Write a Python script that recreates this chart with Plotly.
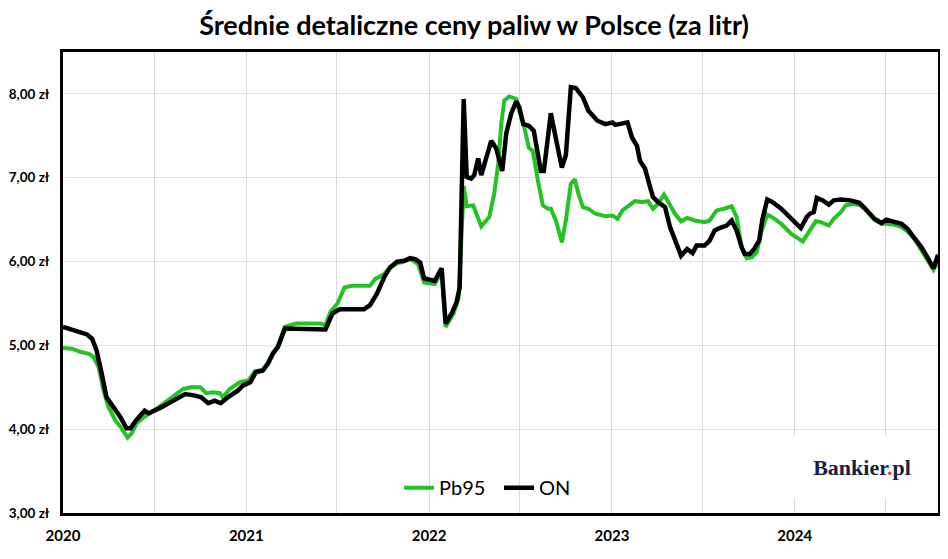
import plotly.graph_objects as go

# --- Data -------------------------------------------------------------
pb95_dates = [
    "2020-01-01", "2020-01-19", "2020-02-06", "2020-02-22", "2020-03-02", "2020-03-12",
    "2020-03-22", "2020-04-01", "2020-04-15", "2020-04-27", "2020-05-09", "2020-05-17",
    "2020-05-27", "2020-06-10", "2020-07-03", "2020-07-23", "2020-08-08", "2020-08-28",
    "2020-09-13", "2020-10-01", "2020-10-13", "2020-10-26", "2020-11-09", "2020-11-15",
    "2020-11-29", "2020-12-19",
    "2021-01-05", "2021-01-18", "2021-02-03", "2021-02-13", "2021-02-23", "2021-03-05",
    "2021-03-19", "2021-04-10", "2021-05-29", "2021-06-08", "2021-06-18", "2021-07-02",
    "2021-07-16", "2021-07-31", "2021-09-05", "2021-09-15", "2021-10-03", "2021-10-15",
    "2021-10-29", "2021-11-12", "2021-11-24", "2021-12-10", "2021-12-22",
    "2022-01-12", "2022-01-26", "2022-02-03", "2022-02-19", "2022-03-01", "2022-03-11",
    "2022-03-17", "2022-03-30", "2022-04-05", "2022-04-15", "2022-04-25", "2022-05-01",
    "2022-05-11", "2022-05-19", "2022-05-25", "2022-05-31", "2022-06-10", "2022-06-24",
    "2022-06-30", "2022-07-10", "2022-07-19", "2022-07-27", "2022-08-06", "2022-08-16",
    "2022-08-26", "2022-09-01", "2022-09-11", "2022-09-23", "2022-10-01", "2022-10-11",
    "2022-10-19", "2022-10-26", "2022-11-04", "2022-11-15", "2022-11-29", "2022-12-19",
    "2023-01-02", "2023-01-12", "2023-01-22", "2023-02-03", "2023-02-16", "2023-03-02",
    "2023-03-14", "2023-03-24", "2023-04-03", "2023-04-15", "2023-04-27", "2023-05-07",
    "2023-05-19", "2023-05-31", "2023-06-15", "2023-07-05", "2023-07-15", "2023-07-29",
    "2023-08-13", "2023-08-28", "2023-09-07", "2023-09-17", "2023-09-27", "2023-10-07",
    "2023-10-17", "2023-10-27", "2023-11-07", "2023-11-17", "2023-12-05", "2023-12-25",
    "2024-01-17", "2024-01-27", "2024-02-06", "2024-02-12", "2024-02-22", "2024-03-09",
    "2024-03-19", "2024-04-02", "2024-04-12", "2024-04-26", "2024-05-11", "2024-05-21",
    "2024-06-08", "2024-06-22", "2024-07-04", "2024-07-18", "2024-08-01", "2024-08-13",
    "2024-08-27", "2024-09-10", "2024-09-24", "2024-10-04", "2024-10-13",
]
pb95_prices = [
    4.97, 4.96, 4.92, 4.90, 4.86, 4.74,
    4.46, 4.26, 4.10, 4.01, 3.90, 3.95,
    4.07, 4.14, 4.23, 4.32, 4.40, 4.48,
    4.50, 4.50, 4.43, 4.44, 4.43, 4.38,
    4.48, 4.56,
    4.58, 4.69, 4.71, 4.79, 4.91, 4.99,
    5.22, 5.26, 5.26, 5.24, 5.40, 5.50,
    5.69, 5.71, 5.71, 5.79, 5.85, 5.93,
    5.98, 6.00, 6.03, 5.97, 5.75,
    5.73, 5.87, 5.22, 5.38, 5.57, 6.90,
    6.66, 6.67, 6.57, 6.42, 6.49, 6.53,
    6.81, 7.17, 7.64, 7.92, 7.97, 7.94,
    7.80, 7.60, 7.36, 7.32, 6.97, 6.67,
    6.63, 6.63, 6.49, 6.23, 6.49, 6.93,
    6.98, 6.81, 6.65, 6.63, 6.57, 6.54,
    6.55, 6.51, 6.61, 6.67, 6.72, 6.71,
    6.72, 6.63, 6.69, 6.80, 6.67, 6.57,
    6.48, 6.52, 6.49, 6.47, 6.49, 6.61,
    6.63, 6.66, 6.53, 6.17, 6.04, 6.05,
    6.11, 6.37, 6.56, 6.53, 6.45, 6.33,
    6.24, 6.33, 6.41, 6.48, 6.47, 6.43,
    6.51, 6.59, 6.67, 6.69, 6.67, 6.62,
    6.50, 6.45, 6.45, 6.44, 6.41, 6.36,
    6.27, 6.13, 5.99, 5.90, 5.99,
]

on_dates = [
    "2020-01-01", "2020-01-13", "2020-02-02", "2020-02-18", "2020-02-28", "2020-03-08",
    "2020-03-18", "2020-03-28", "2020-04-11", "2020-04-25", "2020-05-07", "2020-05-15",
    "2020-05-25", "2020-06-12", "2020-06-20", "2020-07-03", "2020-07-15", "2020-08-02",
    "2020-08-18", "2020-09-01", "2020-09-21", "2020-10-03", "2020-10-17", "2020-10-30",
    "2020-11-11", "2020-11-25", "2020-12-15", "2020-12-25",
    "2021-01-09", "2021-01-20", "2021-02-03", "2021-02-13", "2021-02-23", "2021-03-05",
    "2021-03-19", "2021-04-08", "2021-05-29", "2021-06-08", "2021-06-22", "2021-07-06",
    "2021-08-24", "2021-09-05", "2021-09-19", "2021-10-03", "2021-10-15", "2021-10-29",
    "2021-11-12", "2021-11-24", "2021-12-04", "2021-12-14", "2021-12-22",
    "2022-01-12", "2022-01-26", "2022-02-03", "2022-02-15", "2022-02-25", "2022-03-03",
    "2022-03-11", "2022-03-17", "2022-03-26", "2022-04-01", "2022-04-09", "2022-04-15",
    "2022-04-25", "2022-05-05", "2022-05-15", "2022-05-27", "2022-06-04", "2022-06-14",
    "2022-06-24", "2022-06-30", "2022-07-08", "2022-07-19", "2022-07-29", "2022-08-12",
    "2022-08-18", "2022-09-01", "2022-09-11", "2022-09-23", "2022-10-01", "2022-10-11",
    "2022-10-21", "2022-11-04", "2022-11-15", "2022-12-03", "2022-12-19",
    "2023-01-02", "2023-01-08", "2023-01-22", "2023-02-01", "2023-02-10", "2023-02-20",
    "2023-02-26", "2023-03-08", "2023-03-18", "2023-03-24", "2023-04-03", "2023-04-17",
    "2023-04-27", "2023-05-07", "2023-05-19", "2023-05-31", "2023-06-11", "2023-06-19",
    "2023-07-05", "2023-07-15", "2023-07-25", "2023-08-04", "2023-08-18", "2023-08-28",
    "2023-09-07", "2023-09-17", "2023-09-23", "2023-10-03", "2023-10-12", "2023-10-22",
    "2023-10-28", "2023-11-07", "2023-11-17", "2023-12-05", "2023-12-25",
    "2024-01-13", "2024-01-25", "2024-01-31", "2024-02-08", "2024-02-14", "2024-02-26",
    "2024-03-09", "2024-03-19", "2024-04-02", "2024-04-21", "2024-05-09", "2024-05-21",
    "2024-06-08", "2024-06-22", "2024-07-02", "2024-07-14", "2024-08-01", "2024-08-13",
    "2024-08-27", "2024-09-10", "2024-09-20", "2024-10-04", "2024-10-13",
]
on_prices = [
    5.22, 5.20, 5.16, 5.13, 5.08, 4.94,
    4.67, 4.38, 4.26, 4.14, 4.01, 4.01,
    4.10, 4.22, 4.19, 4.22, 4.26, 4.32,
    4.38, 4.42, 4.40, 4.38, 4.31, 4.34,
    4.31, 4.38, 4.46, 4.52,
    4.56, 4.68, 4.70, 4.78, 4.90, 4.98,
    5.20, 5.20, 5.20, 5.19, 5.38, 5.43,
    5.43, 5.48, 5.62, 5.81, 5.93, 6.00,
    6.01, 6.04, 6.03, 5.99, 5.80,
    5.77, 5.92, 5.26, 5.38, 5.52, 5.69,
    7.94, 7.01, 6.99, 7.03, 7.23, 7.03,
    7.24, 7.44, 7.35, 7.08, 7.53, 7.77,
    7.91, 7.84, 7.64, 7.62, 7.56, 7.08,
    7.08, 7.77, 7.47, 7.12, 7.27, 8.08,
    8.07, 7.96, 7.80, 7.68, 7.64,
    7.66, 7.63, 7.65, 7.66, 7.48, 7.38,
    7.20, 7.11, 6.89, 6.77, 6.71, 6.65,
    6.41, 6.25, 6.07, 6.15, 6.10, 6.19,
    6.19, 6.25, 6.37, 6.40, 6.43, 6.49,
    6.37, 6.17, 6.09, 6.09, 6.15, 6.25,
    6.49, 6.74, 6.71, 6.63, 6.51,
    6.40, 6.53, 6.57, 6.59, 6.76, 6.73,
    6.68, 6.73, 6.74, 6.73, 6.70, 6.63,
    6.51, 6.46, 6.50, 6.48, 6.45, 6.39,
    6.29, 6.17, 6.07, 5.92, 6.08,
]

y_tick_values = [3, 4, 5, 6, 7, 8]
y_tick_labels = ["3,00 zł", "4,00 zł", "5,00 zł", "6,00 zł", "7,00 zł", "8,00 zł"]
x_tick_values = ["2020-01-01", "2021-01-01", "2022-01-01", "2023-01-01", "2024-01-01"]
x_tick_labels = ["2020", "2021", "2022", "2023", "2024"]

title_text = "Średnie detaliczne ceny paliw w Polsce (za litr)"

# --- Figure -----------------------------------------------------------
fig = go.Figure()
fig.add_trace(go.Scatter(
    x=pb95_dates, y=pb95_prices, name="Pb95", mode="lines",
    line=dict(color="#22c322", width=4),
))
fig.add_trace(go.Scatter(
    x=on_dates, y=on_prices, name="ON", mode="lines",
    line=dict(color="#000000", width=4.5),
))

fig.update_layout(
    width=932, height=543,
    margin=dict(l=55, r=2, t=44, b=38, autoexpand=False),
    paper_bgcolor="white", plot_bgcolor="white",
    font=dict(family="Lato", color="#000000"),
    title=dict(text=title_text, x=0.5, xref="container", xanchor="center",
               y=0.967, yanchor="middle",
               font=dict(family="Lato", size=27, color="#000000", weight="bold")),
    showlegend=True,
    legend=dict(orientation="h", x=0.384, xanchor="left", y=0.055, yanchor="middle",
                bgcolor="rgba(0,0,0,0)", font=dict(family="Lato", size=20),
                itemwidth=30, tracegroupgap=0, entrywidth=55, entrywidthmode="pixels"),
)

fig.update_xaxes(
    type="date",
    range=["2020-01-01", "2024-10-13"],
    tickvals=x_tick_values, ticktext=x_tick_labels,
    tickfont=dict(family="Lato", size=15, weight="bold"),
    showgrid=True, gridcolor="#d9d9d9", gridwidth=1,
    minor=dict(dtick="M6", tick0="2020-01-01", showgrid=True, gridcolor="#d9d9d9", gridwidth=1),
    showline=True, linecolor="#000000", linewidth=3, mirror=True,
    ticks="", ticklabelstandoff=7, zeroline=False, automargin=False,
)
fig.update_yaxes(
    range=[3, 8.5],
    tickvals=y_tick_values, ticktext=y_tick_labels,
    tickfont=dict(family="Lato", size=13.5, weight="bold"),
    showgrid=True, gridcolor="#e3e3e3", gridwidth=1,
    showline=True, linecolor="#000000", linewidth=3, mirror=True,
    ticks="", ticklabelstandoff=8, zeroline=False, automargin=False,
)

# Bankier.pl logo (white box covering the grid)
fig.add_annotation(
    xref="paper", yref="paper", x=0.913, y=0.1,
    xanchor="center", yanchor="middle",
    text="Bankier<span style='color:#e8452c'>.</span>pl",
    showarrow=False, bgcolor="white", width=136, height=60,
    font=dict(family="Liberation Serif", size=22, color="#16213f", weight="bold"),
)

fig.write_html("out.html")
